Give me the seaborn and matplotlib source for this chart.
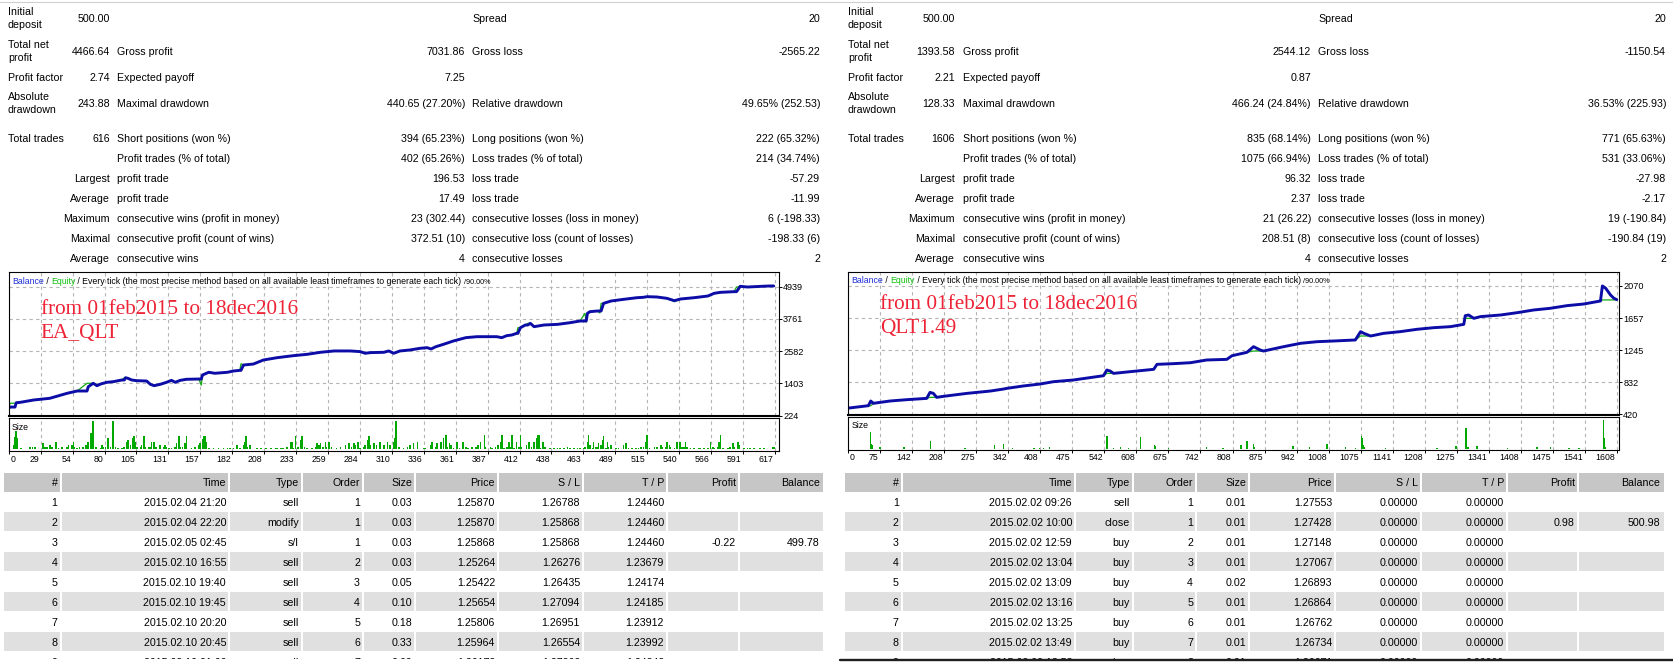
import numpy as np
import pandas as pd
import matplotlib
matplotlib.use("Agg")
import matplotlib.pyplot as plt
import matplotlib.transforms as mtransforms
from matplotlib.patches import Rectangle
from matplotlib.lines import Line2D
import seaborn as sns

W, H = 1674, 668

# ---------------------------------------------------------------- data
# Left report (EA_QLT)
left_trade = [0, 1, 5, 6, 9, 20, 33, 47, 55, 63,
              64, 68, 71, 74, 79, 84, 91, 93, 94, 96,
              99, 103, 111, 114, 117, 122, 127, 131, 134, 138,
              143, 153, 155, 156, 161, 166, 176, 181, 186, 187,
              189, 197, 205, 216, 229, 240, 251, 262, 275, 283,
              287, 291, 302, 306, 310, 315, 323, 331, 337, 340,
              344, 350, 358, 368, 377, 385, 393, 397, 401, 405,
              409, 410, 412, 416, 418, 420, 423, 431, 442, 452,
              460, 464, 465, 466, 468, 474, 476, 477, 479, 485,
              495, 506, 511, 514, 522, 530, 536, 541, 552, 563,
              568, 573, 584, 586, 587, 589, 595, 606, 612, 616]
left_balance = [500, 540, 540, 699, 711, 798, 860, 1043, 1127, 1127,
                1284, 1409, 1321, 1383, 1445, 1467, 1529, 1529, 1613, 1589,
                1529, 1504, 1492, 1372, 1321, 1372, 1445, 1516, 1445, 1516,
                1555, 1565, 1565, 1712, 1811, 1775, 1811, 1858, 1882, 1882,
                2077, 2113, 2260, 2345, 2418, 2467, 2542, 2591, 2591, 2567,
                2506, 2530, 2542, 2591, 2506, 2591, 2626, 2687, 2711, 2663,
                2748, 2833, 2955, 3077, 3113, 3113, 3113, 3077, 3150, 3174,
                3235, 3235, 3442, 3540, 3540, 3601, 3479, 3540, 3564, 3625,
                3686, 3686, 3686, 3967, 4027, 4052, 4052, 4052, 4332, 4417,
                4478, 4539, 4552, 4576, 4564, 4515, 4430, 4491, 4539, 4600,
                4698, 4734, 4759, 4759, 4820, 4954, 4929, 4954, 4966, 4967]
left_equity = [500, 680, 680, 699, 711, 798, 860, 1043, 1127, 1409,
               1409, 1409, 1321, 1383, 1445, 1467, 1529, 1613, 1613, 1589,
               1529, 1504, 1492, 1372, 1321, 1372, 1445, 1516, 1445, 1516,
               1555, 1565, 1340, 1712, 1811, 1775, 1811, 1858, 1882, 2125,
               2077, 2113, 2260, 2345, 2418, 2467, 2542, 2591, 2591, 2567,
               2506, 2530, 2542, 2591, 2506, 2591, 2626, 2687, 2711, 2663,
               2748, 2833, 2955, 3077, 3113, 3113, 3113, 3077, 3150, 3174,
               3235, 3442, 3442, 3540, 3601, 3601, 3479, 3540, 3564, 3625,
               3686, 3967, 3650, 3967, 4027, 4052, 3980, 4332, 4332, 4417,
               4478, 4539, 4552, 4576, 4564, 4515, 4393, 4491, 4539, 4600,
               4698, 4734, 4759, 4929, 4929, 4954, 4929, 4954, 4966, 4967]

left_size = [(4, .17), (5, .48), (6, .71), (7, .42), (10, .04), (17, .10), (19, .10), (21, .10),
             (27, .23), (28, .23), (29, .10), (31, .10), (33, .17), (35, .10), (38, .27), (40, .06),
             (43, .10), (47, .10), (48, .17), (51, .17), (52, .29), (53, .10), (55, .06), (57, .10),
             (60, .10), (62, .17), (64, .29), (66, .61), (67, .42), (68, 1.08), (70, .10), (74, .06),
             (75, .17), (76, .10), (78, .10), (80, .42), (82, .10), (84, 1.08), (86, .10), (88, .06),
             (91, .06), (93, .10), (95, .29), (96, .36), (98, .17), (100, .42), (101, .52), (102, .29),
             (103, .10), (106, .10), (107, .17), (109, .52), (110, .10), (113, .10), (114, .10),
             (115, .29), (117, .29), (118, .10), (119, .10), (122, .17), (125, .10), (126, .17),
             (127, .10), (129, .06), (131, .04), (134, .10), (135, .23), (137, .52), (138, .10),
             (140, .10), (142, .23), (143, .52), (147, .06), (150, .10), (153, .17), (154, .23),
             (156, .38), (157, .52), (158, .52), (159, .29), (161, .06), (165, .06), (169, .06),
             (173, .06), (176, .06), (178, .06), (181, .06), (184, .17), (186, .06), (189, .17),
             (190, .29), (191, .52), (192, .10), (194, .17), (200, .06), (203, .06), (207, .06),
             (211, .06), (215, .06), (216, .06), (219, .06), (221, .06), (224, .10), (227, .29),
             (228, .29), (229, .06), (231, .52), (233, .10), (235, .36), (236, .52), (238, .10),
             (240, .06), (244, .06), (247, .10), (248, .23), (250, .17), (251, .23), (253, .10),
             (255, .29), (256, .10), (258, .29), (260, .10), (264, .06), (267, .10), (271, .17),
             (274, .23), (276, .10), (278, .23), (279, .17), (281, .29), (283, .06), (286, .10),
             (287, .17), (289, .36), (290, .52), (291, .17), (294, .23), (296, .17), (299, .27),
             (302, .17), (305, .27), (307, .17), (310, .27), (311, .42), (312, 1.08), (314, .10),
             (318, .06), (321, .10), (323, .17), (326, .23), (329, .29), (334, .06), (335, .06),
             (340, .17), (341, .29), (344, .10), (345, .23), (348, .29), (350, .42), (352, .55),
             (353, .10), (355, .23), (356, .17), (358, .06), (361, .29), (363, .06), (366, .29),
             (368, .10), (370, .06), (373, .10), (376, .10), (378, .17), (380, .29), (383, .55),
             (384, .10), (388, .10), (389, .06), (392, .10), (394, .17), (396, .29), (397, .55),
             (399, .06), (401, .10), (403, .29), (404, .10), (405, .55), (407, .06), (409, .29),
             (411, .10), (412, .55), (413, .10), (417, .17), (419, .29), (421, .10), (423, .29),
             (425, .42), (426, .55), (427, .55), (428, .06), (430, .29), (432, .10), (436, .06),
             (439, .06), (442, .06), (444, .06), (447, .06), (450, .10), (452, .06), (455, .06),
             (458, .06), (460, .06), (463, .06), (464, .10), (466, .29), (467, .55), (468, .17),
             (470, .06), (471, .29), (473, .10), (474, .10), (475, .23), (477, .17), (478, .36),
             (479, .52), (481, .06), (482, .29), (483, .10), (485, .17), (489, .06), (491, .06),
             (495, .17), (497, .23), (499, .06), (502, .06), (505, .06), (507, .06), (509, .10),
             (511, .10), (513, .29), (514, .55), (516, .06), (520, .10), (522, .10), (525, .17),
             (526, .10), (529, .10), (530, .29), (532, .17), (533, .10), (536, .06), (538, .29),
             (540, .29), (541, .29), (542, .10), (544, .10), (545, .29), (546, .10), (549, .06),
             (552, .06), (556, .06), (557, .06), (560, .06), (563, .06), (565, .29), (567, .10),
             (568, .06), (571, .10), (572, .29), (573, .55), (575, .06), (579, .06), (581, .10),
             (583, .23), (584, .10), (587, .29), (588, .17), (592, .06), (595, .06), (597, .06),
             (600, .06), (605, .06), (608, .06), (615, .10), (616, .10)]
left_size_trade = [t for t, _ in left_size]
left_size_lots = [v for _, v in left_size]

left_xticklabels = ["0", "29", "54", "80", "105", "131", "157", "182", "208", "233", "259", "284",
                    "310", "336", "361", "387", "412", "438", "463", "489", "515", "540", "566",
                    "591", "617"]
left_yticks = [224, 1403, 2582, 3761, 4939]

# Right report (QLT1.49)
right_trade = [0, 42, 47, 50, 52, 87, 122, 164, 171, 178,
               185, 199, 248, 297, 325, 332, 366, 401, 429, 471,
               534, 541, 548, 555, 590, 639, 646, 681, 716, 750,
               792, 803, 834, 848, 862, 869, 911, 946, 981, 1016,
               1061, 1072, 1079, 1093, 1120, 1155, 1190, 1225, 1260, 1288,
               1291, 1298, 1309, 1323, 1365, 1400, 1434, 1469, 1504, 1539,
               1574, 1578, 1585, 1595, 1602, 1608]
right_balance = [500, 531, 591, 574, 561, 591, 608, 625, 702, 689,
                 638, 651, 689, 719, 745, 754, 784, 809, 839, 861,
                 916, 989, 976, 946, 968, 998, 1062, 1071, 1083, 1118,
                 1126, 1173, 1216, 1289, 1246, 1233, 1289, 1332, 1353, 1362,
                 1375, 1482, 1460, 1426, 1460, 1482, 1512, 1533, 1546, 1576,
                 1687, 1696, 1653, 1675, 1696, 1726, 1760, 1782, 1816, 1837,
                 1876, 2069, 2039, 1953, 1911, 1894]
right_equity = [500, 531, 531, 545, 561, 591, 608, 625, 638, 638,
                638, 651, 689, 719, 745, 754, 784, 809, 839, 861,
                916, 946, 946, 946, 968, 998, 1062, 1071, 1083, 1118,
                1126, 1173, 1216, 1233, 1233, 1233, 1289, 1332, 1353, 1362,
                1375, 1426, 1426, 1426, 1460, 1482, 1512, 1533, 1546, 1576,
                1653, 1653, 1653, 1675, 1696, 1726, 1760, 1782, 1816, 1837,
                1876, 1889, 1889, 1889, 1889, 1894]

right_size = [(47, .19), (49, .06), (51, .04), (66, .02), (117, .02), (172, .09), (244, .01),
              (306, .04), (325, .06), (344, .01), (389, .01), (400, .01), (408, .01), (421, .02),
              (541, .14), (555, .01), (570, .02), (586, .01), (612, .13), (641, .04), (642, .03),
              (670, .01), (750, .02), (784, .01), (822, .04), (834, .09), (848, .06), (850, .02),
              (931, .03), (965, .02), (1002, .05), (1040, .02), (1061, .01), (1074, .14),
              (1075, .12), (1077, .04), (1079, .02), (1124, .01), (1232, .01), (1272, .03),
              (1293, .23), (1295, .02), (1298, .02), (1316, .03), (1379, .01), (1441, .02),
              (1469, .02), (1508, .01), (1529, .01), (1580, .32), (1581, .12), (1583, .04),
              (1585, .02)]
right_size_trade = [t for t, _ in right_size]
right_size_lots = [v for _, v in right_size]

right_xticklabels = ["0", "75", "142", "208", "275", "342", "408", "475", "542", "608", "675",
                     "742", "808", "875", "942", "1008", "1075", "1141", "1208", "1275", "1341",
                     "1408", "1475", "1541", "1608"]
right_yticks = [420, 832, 1245, 1657, 2070]

# Summary statistics
left_stats = [
    ["Initial\ndeposit", "500.00", "", "", "Spread", "20"],
    ["Total net\nprofit", "4466.64", "Gross profit", "7031.86", "Gross loss", "-2565.22"],
    ["Profit factor", "2.74", "Expected payoff", "7.25", "", ""],
    ["Absolute\ndrawdown", "243.88", "Maximal drawdown", "440.65 (27.20%)", "Relative drawdown", "49.65% (252.53)"],
    ["Total trades", "616", "Short positions (won %)", "394 (65.23%)", "Long positions (won %)", "222 (65.32%)"],
    ["", "", "Profit trades (% of total)", "402 (65.26%)", "Loss trades (% of total)", "214 (34.74%)"],
    ["", "Largest", "profit trade", "196.53", "loss trade", "-57.29"],
    ["", "Average", "profit trade", "17.49", "loss trade", "-11.99"],
    ["", "Maximum", "consecutive wins (profit in money)", "23 (302.44)", "consecutive losses (loss in money)", "6 (-198.33)"],
    ["", "Maximal", "consecutive profit (count of wins)", "372.51 (10)", "consecutive loss (count of losses)", "-198.33 (6)"],
    ["", "Average", "consecutive wins", "4", "consecutive losses", "2"],
]
right_stats = [
    ["Initial\ndeposit", "500.00", "", "", "Spread", "20"],
    ["Total net\nprofit", "1393.58", "Gross profit", "2544.12", "Gross loss", "-1150.54"],
    ["Profit factor", "2.21", "Expected payoff", "0.87", "", ""],
    ["Absolute\ndrawdown", "128.33", "Maximal drawdown", "466.24 (24.84%)", "Relative drawdown", "36.53% (225.93)"],
    ["Total trades", "1606", "Short positions (won %)", "835 (68.14%)", "Long positions (won %)", "771 (65.63%)"],
    ["", "", "Profit trades (% of total)", "1075 (66.94%)", "Loss trades (% of total)", "531 (33.06%)"],
    ["", "Largest", "profit trade", "96.32", "loss trade", "-27.98"],
    ["", "Average", "profit trade", "2.37", "loss trade", "-2.17"],
    ["", "Maximum", "consecutive wins (profit in money)", "21 (26.22)", "consecutive losses (loss in money)", "19 (-190.84)"],
    ["", "Maximal", "consecutive profit (count of wins)", "208.51 (8)", "consecutive loss (count of losses)", "-190.84 (19)"],
    ["", "Average", "consecutive wins", "4", "consecutive losses", "2"],
]

# Trade tables
table_header = ["#", "Time", "Type", "Order", "Size", "Price", "S / L", "T / P", "Profit", "Balance"]
left_rows = [
    ["1", "2015.02.04 21:20", "sell", "1", "0.03", "1.25870", "1.26788", "1.24460", "", ""],
    ["2", "2015.02.04 22:20", "modify", "1", "0.03", "1.25870", "1.25868", "1.24460", "", ""],
    ["3", "2015.02.05 02:45", "s/l", "1", "0.03", "1.25868", "1.25868", "1.24460", "-0.22", "499.78"],
    ["4", "2015.02.10 16:55", "sell", "2", "0.03", "1.25264", "1.26276", "1.23679", "", ""],
    ["5", "2015.02.10 19:40", "sell", "3", "0.05", "1.25422", "1.26435", "1.24174", "", ""],
    ["6", "2015.02.10 19:45", "sell", "4", "0.10", "1.25654", "1.27094", "1.24185", "", ""],
    ["7", "2015.02.10 20:20", "sell", "5", "0.18", "1.25806", "1.26951", "1.23912", "", ""],
    ["8", "2015.02.10 20:45", "sell", "6", "0.33", "1.25964", "1.26554", "1.23992", "", ""],
    ["9", "2015.02.10 21:00", "sell", "7", "0.60", "1.26172", "1.27262", "1.24242", "", ""],
]
right_rows = [
    ["1", "2015.02.02 09:26", "sell", "1", "0.01", "1.27553", "0.00000", "0.00000", "", ""],
    ["2", "2015.02.02 10:00", "close", "1", "0.01", "1.27428", "0.00000", "0.00000", "0.98", "500.98"],
    ["3", "2015.02.02 12:59", "buy", "2", "0.01", "1.27148", "0.00000", "0.00000", "", ""],
    ["4", "2015.02.02 13:04", "buy", "3", "0.01", "1.27067", "0.00000", "0.00000", "", ""],
    ["5", "2015.02.02 13:09", "buy", "4", "0.02", "1.26893", "0.00000", "0.00000", "", ""],
    ["6", "2015.02.02 13:16", "buy", "5", "0.01", "1.26864", "0.00000", "0.00000", "", ""],
    ["7", "2015.02.02 13:25", "buy", "6", "0.01", "1.26762", "0.00000", "0.00000", "", ""],
    ["8", "2015.02.02 13:49", "buy", "7", "0.01", "1.26734", "0.00000", "0.00000", "", ""],
    ["9", "2015.02.02 13:53", "buy", "8", "0.01", "1.26671", "0.00000", "0.00000", "", ""],
]

chart_titles = [("from 01feb2015 to 18dec2016", "EA_QLT"), ("from 01feb2015 to 18dec2016", "QLT1.49")]

# ---------------------------------------------------------------- style
sns.set_style("white")
plt.rcParams['font.family'] = ['Liberation Sans', 'DejaVu Sans']
for k in ['text.color', 'axes.labelcolor', 'xtick.color', 'ytick.color']:
    plt.rcParams[k] = 'black'

BAL_C = "#0c0ca6"
EQ_C = "#12aa12"
SIZE_C = "#00a800"
GRID_C = "#b4b4b4"
HEAD_C = "#c6c6c6"
BAND_C = "#e0e0e0"
RED_C = "#ee2336"
FS = 7.7

fig = plt.figure(figsize=(W / 100, H / 100), dpi=100)
fig.patch.set_facecolor("white")
PIX = mtransforms.Affine2D().scale(1, -1).translate(0, H)


def txt(x, y, s, ha='left', size=FS, color='black', **kw):
    return fig.text(x, y, s, transform=PIX, ha=ha, va='baseline', fontsize=size, color=color, **kw)


def px_axes(x0, y0, x1, y1):
    return fig.add_axes([x0 / W, 1 - y1 / H, (x1 - x0) / W, (y1 - y0) / H])


# top thin border
fig.add_artist(Line2D([0, W], [1.5, 1.5], transform=PIX, color="#d0d0d0", lw=0.8))

# ---------------------------------------------------------------- statistics blocks
stat_y = [18, 51, 77, 103, 138, 158, 178, 198, 218, 238, 258]


def draw_stats(stats, xs):
    lab1, val1, lab2, val2, lab3, val3 = xs
    for (a, b, c, d, e, f), yc in zip(stats, stat_y):
        base = yc + 3.8
        if "\n" in a:
            l1, l2 = a.split("\n")
            txt(lab1, base - 6.5, l1)
            txt(lab1, base + 6.5, l2)
        elif a:
            txt(lab1, base, a)
        if b:
            txt(val1, base, b, ha='right')
        if c:
            txt(lab2, base, c)
        if d:
            txt(val2, base, d, ha='right')
        if e:
            txt(lab3, base, e)
        if f:
            txt(val3, base, f, ha='right')


draw_stats(left_stats, (8, 110, 117, 465, 472.5, 820))
draw_stats(right_stats, (848, 955, 963, 1311, 1318, 1666))

# ---------------------------------------------------------------- charts


def draw_chart(main_box, size_box, trades, bal, eq, s_trade, s_lots, xmax, ylim, sylim,
               xlabels, yticks, bar_w, titles, title_base, legend_base):
    df = pd.DataFrame({"trade": trades, "balance": bal, "equity": eq})
    ax = px_axes(*main_box)
    ax.grid(True, color=GRID_C, lw=0.8, ls=(0, (3, 3)), zorder=0)
    sns.lineplot(data=df, x="trade", y="equity", ax=ax, color=EQ_C, linewidth=0.9,
                 sort=False, estimator=None, legend=False)
    sns.lineplot(data=df, x="trade", y="balance", ax=ax, color=BAL_C, linewidth=2.1,
                 sort=False, estimator=None, legend=False)
    ax.set_xlim(0, xmax)
    ax.set_ylim(*ylim)
    xt = np.linspace(0, float(xlabels[-1]), len(xlabels))
    ax.set_xticks(xt)
    ax.set_yticks(yticks)
    ax.set_yticklabels([str(v) for v in yticks])
    ax.yaxis.tick_right()
    ax.tick_params(axis='x', length=0, labelbottom=False, bottom=False)
    ax.tick_params(axis='y', direction='out', length=1.9, width=0.7, pad=0.9, labelsize=6.6,
                   right=True, left=False, labelright=True, labelleft=False)
    ax.grid(True, color=GRID_C, lw=0.8, ls=(0, (3, 3)))
    ax.set_axisbelow(True)
    ax.set_xlabel("")
    ax.set_ylabel("")
    for s in ax.spines.values():
        s.set_color("black")
        s.set_linewidth(0.8)
        s.set_visible(True)
    ax.spines['bottom'].set_linewidth(1.5)

    axs = px_axes(*size_box)
    axs.bar(s_trade, s_lots, width=bar_w, color=SIZE_C, linewidth=0, antialiased=False, zorder=3)
    axs.set_xlim(0, xmax)
    axs.set_ylim(*sylim)
    axs.set_xticks(xt)
    axs.set_yticks([])
    axs.grid(True, axis='x', color=GRID_C, lw=0.8, ls=(0, (3, 3)))
    axs.grid(False, axis='y')
    axs.set_axisbelow(True)
    axs.tick_params(axis='x', direction='out', length=2.2, width=0.7, bottom=True,
                    labelbottom=False)
    for s in axs.spines.values():
        s.set_color("black")
        s.set_linewidth(0.8)
        s.set_visible(True)
    for i, (p, lab) in enumerate(zip(xt, xlabels)):
        if i == 0:
            axs.annotate(lab, xy=(p, 0), xycoords=('data', 'axes fraction'), xytext=(1.6, -10.5),
                         textcoords='offset pixels', ha='left', va='baseline', fontsize=6.3,
                         annotation_clip=False)
        else:
            axs.annotate(lab, xy=(p, 0), xycoords=('data', 'axes fraction'), xytext=(-1.5, -10.5),
                         textcoords='offset pixels', ha='right', va='baseline', fontsize=6.3,
                         annotation_clip=False)

    # "Size" caption
    txt(main_box[0] + 3.2, size_box[1] + 11.5, "Size", size=6.3)

    # legend line at top of chart
    renderer = fig.canvas.get_renderer()
    x = main_box[0] + 3.2
    parts = [("Balance", "#1f2fd6", 6.3), (" / ", "black", 6.3), ("Equity", "#10c010", 6.3),
             (" / Every tick (the most precise method based on all available least timeframes to generate each tick) ",
              "black", 6.3),
             ("/90.00%", "black", 5.2)]
    for s, c, fs in parts:
        t = txt(x, legend_base, s, size=fs, color=c)
        bb = t.get_window_extent(renderer)
        x = bb.x1

    # red title
    txt(main_box[0] + 32, title_base, titles[0], size=15.3, color=RED_C, family="Liberation Serif")
    txt(main_box[0] + 32, title_base + 24, titles[1], size=15.3, color=RED_C, family="Liberation Serif")


draw_chart((8.8, 272.3, 779.3, 416.3), (8.8, 418.3, 779.3, 451.0),
           left_trade, left_balance, left_equity, left_size_trade, left_size_lots,
           620.5, (202, 5467), (-0.064, 1.18), left_xticklabels, left_yticks, 1.3,
           chart_titles[0], 314.3, 284.0)
draw_chart((848.3, 271.7, 1619.3, 414.8), (848.3, 416.7, 1619.3, 450.0),
           right_trade, right_balance, right_equity, right_size_trade, right_size_lots,
           1613.4, (414, 2252), (-0.011, 0.357), right_xticklabels, right_yticks, 3.0,
           chart_titles[1], 309.0, 283.0)

# ---------------------------------------------------------------- trade tables
clip_bb = mtransforms.TransformedBbox(mtransforms.Bbox.from_extents(0, H - 659, W, H),
                                      mtransforms.IdentityTransform())


def draw_table(bounds, rows):
    n = len(bounds) - 1
    bands = [(-1, 472.7, 492.3)]
    for k in range(1, len(rows) + 1):
        c = 481.7 + 20 * k
        if k % 2 == 0:
            bands.append((k, c - 9.4, c + 9.0))
    for k, y0, y1 in bands:
        col = HEAD_C if k == -1 else BAND_C
        for i in range(n):
            x0 = bounds[i] + (1 if i > 0 else 0)
            x1 = bounds[i + 1] - (1 if i < n - 1 else 0)
            fig.add_artist(Rectangle((x0, y0), x1 - x0, y1 - y0, transform=PIX,
                                     facecolor=col, edgecolor='none', zorder=0))
    for i, h in enumerate(table_header):
        txt(bounds[i + 1] - 3, 482 + 3.8, h, ha='right')
    for k, row in enumerate(rows, start=1):
        c = 481.7 + 20 * k
        for i, v in enumerate(row):
            if v:
                t = txt(bounds[i + 1] - 3, c + 3.8, v, ha='right')
                t.set_clip_on(True)
                t.set_clip_box(clip_bb)


draw_table([4, 60.5, 229, 301.6, 363, 415, 498, 583, 667, 739, 822.7], left_rows)
draw_table([845, 901.7, 1075, 1133, 1196, 1249, 1335, 1421, 1507, 1578, 1663.5], right_rows)

# dark rule under the right table
fig.add_artist(Line2D([840, W], [660, 660], transform=PIX, color="#202020", lw=1.7))

fig.savefig("out.png", dpi=100, facecolor="white")
